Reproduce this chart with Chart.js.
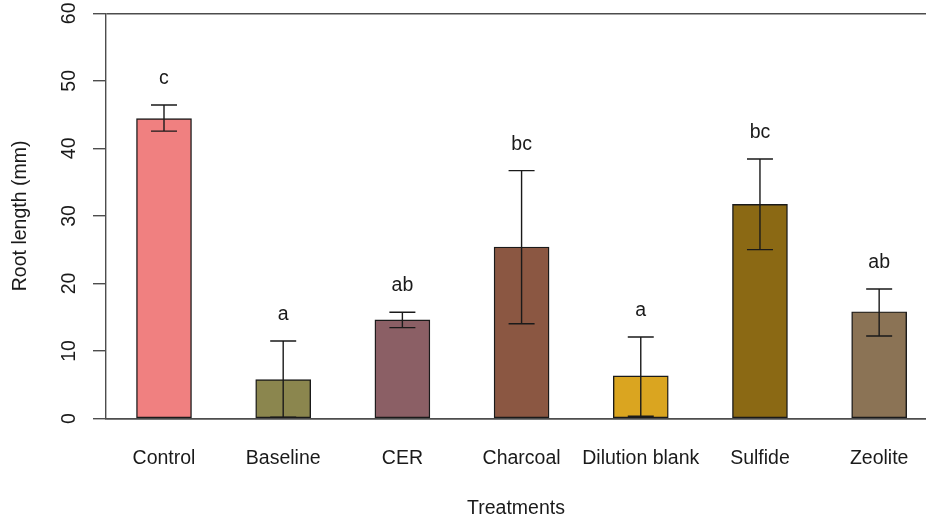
<!DOCTYPE html>
<html>
<head>
<meta charset="utf-8">
<script src="https://cdn.jsdelivr.net/npm/chart.js@4"></script>
<style>
html,body{margin:0;padding:0;background:#fff;}
#wrap{width:926px;height:520px;}
</style>
</head>
<body>
<div id="wrap"><canvas id="c" width="926" height="520"></canvas></div>
<script>
const treatments = ["Control", "Baseline", "CER", "Charcoal", "Dilution blank", "Sulfide", "Zeolite"];
const meanLength = [44.4, 5.75, 14.6, 25.4, 6.3, 31.7, 15.8];
const lowerErr = [42.55, 0.18, 13.45, 14.04, 0.33, 25.0, 12.22];
const upperErr = [46.42, 11.48, 15.73, 36.70, 12.07, 38.43, 19.18];
const groupLetters = ["c", "a", "ab", "bc", "a", "bc", "ab"];
const yTicks = [0, 10, 20, 30, 40, 50, 60];
const barColors = ["#F08080", "#8B864E", "#8B5F65", "#8B5742", "#DAA520", "#8B6914", "#8B7355"];

const FONT = "'Liberation Sans', Arial, sans-serif";
const AX = "#4d4d4d";
const TXT = "#1a1a1a";

const extras = {
  id: "extras",
  afterDatasetsDraw(chart) {
    const {ctx, scales: {x, y}} = chart;
    ctx.save();
    ctx.strokeStyle = "#1a1a1a";
    ctx.lineWidth = 1.4;
    const cap = 13;
    treatments.forEach((t, i) => {
      const px = x.getPixelForValue(i);
      const yl = y.getPixelForValue(lowerErr[i]);
      const yu = y.getPixelForValue(upperErr[i]);
      ctx.beginPath();
      ctx.moveTo(px, yl); ctx.lineTo(px, yu);
      ctx.moveTo(px - cap, yu); ctx.lineTo(px + cap, yu);
      ctx.moveTo(px - cap, yl); ctx.lineTo(px + cap, yl);
      ctx.stroke();
    });
    ctx.fillStyle = TXT;
    ctx.font = "19.5px " + FONT;
    ctx.textAlign = "center";
    ctx.textBaseline = "middle";
    treatments.forEach((t, i) => {
      const px = x.getPixelForValue(i);
      const py = y.getPixelForValue(upperErr[i] + 3.9);
      ctx.fillText(groupLetters[i], px, py);
    });
    // rotated y tick labels
    yTicks.forEach(v => {
      const py = y.getPixelForValue(v);
      ctx.save();
      ctx.translate(70, py);
      ctx.rotate(-Math.PI / 2);
      ctx.fillText(String(v), 0, 0);
      ctx.restore();
    });
    // y axis title
    ctx.save();
    ctx.translate(21, (y.top + y.bottom) / 2);
    ctx.rotate(-Math.PI / 2);
    ctx.fillText("Root length (mm)", 0, 0);
    ctx.restore();
    ctx.restore();
  }
};

new Chart(document.getElementById("c"), {
  type: "bar",
  data: {
    datasets: [{
      data: meanLength.map((v, i) => ({x: i, y: v})),
      backgroundColor: barColors,
      borderColor: "#1a1a1a",
      borderWidth: 1.4,
      borderSkipped: false,
      barThickness: 55
    }]
  },
  options: {
    responsive: false,
    animation: false,
    events: [],
    layout: {padding: {top: 13.3, right: 0, bottom: 0, left: 0}},
    plugins: {legend: {display: false}, tooltip: {enabled: false}},
    scales: {
      x: {
        type: "linear",
        offset: false,
        min: -0.4866,
        max: 6.393,
        afterBuildTicks: s => { s.ticks = treatments.map((t, i) => ({value: i})); },
        afterFit: s => { s.height = 101.5; s.paddingLeft = 0; s.paddingRight = 0; },
        grid: {drawOnChartArea: false, drawTicks: false, offset: false},
        border: {display: true, color: AX, width: 1.4},
        ticks: {
          autoSkip: false, maxRotation: 0, minRotation: 0, padding: 28,
          color: TXT, font: {family: FONT, size: 19.5},
          callback: v => treatments[v]
        },
        title: {display: true, text: "Treatments", color: TXT, font: {family: FONT, size: 19.5}, padding: {top: 0, bottom: 0}}
      },
      y: {
        min: 0, max: 60,
        afterBuildTicks: s => { s.ticks = yTicks.map(v => ({value: v})); },
        afterFit: s => { s.width = 106; s.paddingTop = 0; s.paddingBottom = 0; },
        grid: {
          color: c => (c.tick && (c.tick.value === 0 || c.tick.value === 60)) ? AX : "rgba(0,0,0,0)",
          tickColor: AX, tickLength: 13, lineWidth: 1.4
        },
        border: {display: true, color: AX, width: 1.4},
        ticks: {display: false}
      }
    }
  },
  plugins: [extras]
});
</script>
</body>
</html>
